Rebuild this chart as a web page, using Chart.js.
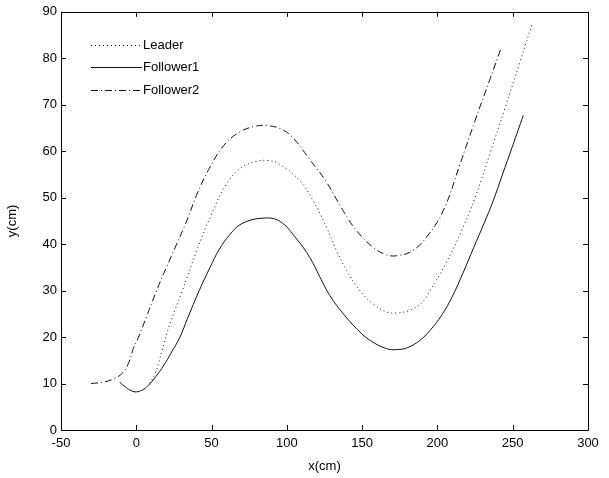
<!DOCTYPE html>
<html>
<head>
<meta charset="utf-8">
<script src="https://cdn.jsdelivr.net/npm/chart.js@4.4.1/dist/chart.umd.min.js"></script>
<style>
    html, body { margin: 0; padding: 0; background: #fff; }
    #wrap { width: 609px; height: 478px; }
</style>
</head>
<body>
<div id="wrap"><canvas id="trajectory-chart" width="609" height="478"></canvas></div>
<script>
// trajectories, x and y in cm
const leaderX = [9, 13, 17, 22, 30, 40, 50, 60, 70, 80, 87, 95, 108.7, 117.5, 126.4, 133, 139.7, 148.5, 157.4, 166.3, 173, 182, 190, 195, 205, 217, 225, 235, 245, 255, 263];
const leaderY = [10, 12.5, 17, 22.5, 29.5, 38.5, 46.5, 53, 56.5, 57.8, 58, 57.2, 53.6, 49.3, 43.6, 38.6, 34.3, 30, 27.1, 25.4, 25.2, 25.8, 27.5, 30, 35.5, 43.6, 50, 59.6, 69.4, 79.4, 87.5];

const follower1X = [-11, -7, -3, 0, 4, 8, 13, 18, 23, 29, 34, 41.8, 49, 55, 62, 70, 84.3, 95.4, 106.5, 115.3, 122, 128.6, 137.5, 146.3, 155.2, 166.3, 173, 180, 188, 195, 203, 210, 217, 224, 231, 237, 243, 250, 257];
const follower1Y = [10.3, 9.2, 8.4, 8.2, 8.6, 9.6, 11.5, 13.8, 16.5, 20, 24, 30, 35, 38.8, 42, 44.4, 45.6, 44.9, 41.1, 37.1, 32.9, 28.9, 25, 21.8, 19.3, 17.5, 17.3, 17.7, 19.2, 21.4, 24.8, 28.8, 33.8, 39.2, 44.5, 49.3, 54.8, 61.2, 67.7];

const follower2X = [-30, -22, -15, -9, -5, -2, 1.5, 7.5, 13.5, 20, 26.8, 33.5, 40, 48, 58, 68, 78, 87, 96, 104, 115, 126.4, 137.5, 146.3, 157.4, 166.3, 173, 183, 193, 204, 215, 225, 235, 242];
const follower2Y = [10, 10.3, 11, 12.3, 14.5, 17.5, 20, 25, 30, 35, 40, 45, 50.5, 56, 61.2, 64, 65.3, 65.5, 64.8, 62.9, 58.3, 53.3, 47.1, 42.9, 39.3, 37.7, 37.5, 38.5, 41.6, 47.3, 57.2, 66.6, 75.6, 81.9];

const seriesNames = ['Leader', 'Follower1', 'Follower2'];
const seriesDash = [[1, 3], [], [7, 3, 1, 3]];

const xTicks = [-50, 0, 50, 100, 150, 200, 250, 300];
const yTicks = [0, 10, 20, 30, 40, 50, 60, 70, 80, 90];

const FONT = 'Arial, "Liberation Sans", sans-serif';

function toPoints(xs, ys) {
    let points = [];
    for (let i = 0; i < xs.length; i++) {
        points.push({x: xs[i], y: ys[i]});
    }
    return points;
}

// box round the axes, ticks pointing inward on all four sides
const boxPlugin = {
    id: 'axesBox',
    afterDraw(chart) {
        const ctx = chart.ctx;
        const area = chart.chartArea;
        const xs = chart.scales.x;
        const ys = chart.scales.y;
        const len = 5;
        ctx.save();
        ctx.strokeStyle = '#000';
        ctx.lineWidth = 1;
        ctx.setLineDash([]);
        ctx.strokeRect(Math.round(area.left) + 0.5, Math.round(area.top) + 0.5,
            Math.round(area.right - area.left), Math.round(area.bottom - area.top));
        ctx.beginPath();
        xTicks.forEach((v) => {
            const px = Math.round(xs.getPixelForValue(v)) + 0.5;
            ctx.moveTo(px, area.bottom);
            ctx.lineTo(px, area.bottom - len);
            ctx.moveTo(px, area.top);
            ctx.lineTo(px, area.top + len);
        });
        yTicks.forEach((v) => {
            const py = Math.round(ys.getPixelForValue(v)) + 0.5;
            ctx.moveTo(area.left, py);
            ctx.lineTo(area.left + len, py);
            ctx.moveTo(area.right, py);
            ctx.lineTo(area.right - len, py);
        });
        ctx.stroke();
        ctx.restore();
    }
};

// legend drawn inside the upper left corner, no frame
const insideLegend = {
    id: 'insideLegend',
    afterDraw(chart) {
        const ctx = chart.ctx;
        const area = chart.chartArea;
        ctx.save();
        ctx.font = '13px ' + FONT;
        ctx.fillStyle = '#000';
        ctx.textBaseline = 'middle';
        chart.data.datasets.forEach((ds, i) => {
            const y = Math.round(area.top + 33 + i * 22.5) + 0.5;
            ctx.beginPath();
            ctx.strokeStyle = ds.borderColor;
            ctx.lineWidth = 1;
            ctx.setLineDash(ds.borderDash);
            ctx.moveTo(area.left + 30, y);
            ctx.lineTo(area.left + 81, y);
            ctx.stroke();
            ctx.fillText(ds.label, area.left + 82, y);
        });
        ctx.restore();
    }
};

const datasets = [
    toPoints(leaderX, leaderY),
    toPoints(follower1X, follower1Y),
    toPoints(follower2X, follower2Y)
].map((pts, i) => ({
    label: seriesNames[i],
    data: pts,
    showLine: true,
    borderColor: '#111',
    borderWidth: 1,
    borderDash: seriesDash[i],
    pointRadius: 0,
    tension: 0.4,
    fill: false
}));

new Chart(document.querySelector('#trajectory-chart'), {
    type: 'scatter',
    data: {datasets: datasets},
    plugins: [boxPlugin, insideLegend],
    options: {
        responsive: false,
        animation: false,
        events: [],
        layout: {padding: {top: 10, right: 21, left: 5, bottom: 4}},
        plugins: {
            legend: {display: false},
            tooltip: {enabled: false}
        },
        scales: {
            x: {
                type: 'linear',
                min: -50,
                max: 300,
                afterBuildTicks: (scale) => {
                    scale.ticks = xTicks.map((v) => ({value: v}));
                },
                afterFit: (scale) => {
                    scale.height = 44;
                },
                grid: {display: false, drawTicks: false},
                border: {display: false},
                ticks: {color: '#000', font: {family: FONT, size: 13}, padding: 6, maxRotation: 0},
                title: {display: true, text: 'x(cm)', color: '#000', font: {family: FONT, size: 13}, padding: {top: 0, bottom: 0}}
            },
            y: {
                type: 'linear',
                min: 0,
                max: 90,
                afterBuildTicks: (scale) => {
                    scale.ticks = yTicks.map((v) => ({value: v}));
                },
                afterFit: (scale) => {
                    scale.width = 56;
                },
                grid: {display: false, drawTicks: false},
                border: {display: false},
                ticks: {color: '#000', font: {family: FONT, size: 13}, padding: 4},
                title: {display: true, text: 'y(cm)', color: '#000', font: {family: FONT, size: 13}, padding: {top: 0, bottom: 0}}
            }
        }
    }
});
</script>
</body>
</html>
